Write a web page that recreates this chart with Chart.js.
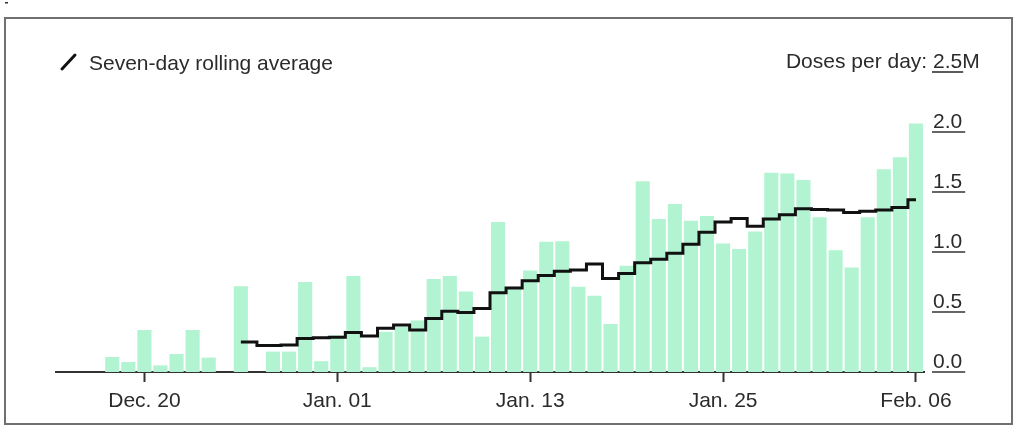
<!DOCTYPE html>
<html>
<head>
<meta charset="utf-8">
<script src="https://cdn.jsdelivr.net/npm/chart.js@4/dist/chart.umd.min.js"></script>
<style>
  html, body { margin: 0; padding: 0; background: #fff; }
  #wrap { width: 1024px; height: 445px; position: relative; }
</style>
</head>
<body>
<div id="wrap"><canvas id="c" width="1024" height="445"></canvas></div>
<script>
// ---- DATA ----
const categories = [
  "Dec. 15","Dec. 16","Dec. 17","Dec. 18","Dec. 19","Dec. 20","Dec. 21","Dec. 22","Dec. 23","Dec. 24",
  "Dec. 25","Dec. 26","Dec. 27","Dec. 28","Dec. 29","Dec. 30","Dec. 31",
  "Jan. 01","Jan. 02","Jan. 03","Jan. 04","Jan. 05","Jan. 06","Jan. 07","Jan. 08","Jan. 09","Jan. 10",
  "Jan. 11","Jan. 12","Jan. 13","Jan. 14","Jan. 15","Jan. 16","Jan. 17","Jan. 18","Jan. 19","Jan. 20",
  "Jan. 21","Jan. 22","Jan. 23","Jan. 24","Jan. 25","Jan. 26","Jan. 27","Jan. 28","Jan. 29","Jan. 30",
  "Jan. 31","Feb. 01","Feb. 02","Feb. 03","Feb. 04","Feb. 05","Feb. 06"
];
// daily doses, millions
const dailyDoses = [
  null, null, null, 0.125, 0.083, 0.35, 0.055, 0.15, 0.35, 0.12,
  null, 0.715, null, 0.17, 0.17, 0.75, 0.09,
  0.305, 0.80, 0.04, 0.335, 0.375, 0.43, 0.775, 0.80, 0.67, 0.295,
  1.25, 0.71, 0.845, 1.085, 1.09, 0.71, 0.635, 0.40, 0.885, 1.59,
  1.275, 1.40, 1.26, 1.30, 1.07, 1.025, 1.17, 1.66, 1.655, 1.60,
  1.29, 1.015, 0.87, 1.29, 1.69, 1.79, 2.07
];
// seven-day rolling average, millions
const rollingAverage = [
  null, null, null, null, null, null, null, null, null, null,
  null, 0.25, null, 0.22, 0.225, 0.28, 0.285,
  0.29, 0.33, 0.30, 0.365, 0.392, 0.35, 0.445, 0.507, 0.495, 0.53,
  0.66, 0.70, 0.76, 0.805, 0.84, 0.85, 0.90, 0.78, 0.82, 0.91,
  0.94, 0.99, 1.065, 1.165, 1.25, 1.28, 1.215, 1.275, 1.31, 1.36,
  1.355, 1.35, 1.33, 1.34, 1.35, 1.37, 1.435
];
const xTickLabels = ["Dec. 20", "Jan. 01", "Jan. 13", "Jan. 25", "Feb. 06"];
const yTickValues = [0, 0.5, 1.0, 1.5, 2.0];
const yTopValue = 2.5;
const legendLabel = "Seven-day rolling average";
const unitPrefix = "Doses per day: ";
const unitSuffix = "M";

// ---- STYLE ----
const FONT = '"Liberation Sans", Arial, Helvetica, sans-serif';
const TEXT = '#2b2b2b';
const BAR = '#b2f4d2';

const decor = {
  id: 'decor',
  afterDraw(chart) {
    const ctx = chart.ctx;
    const y = chart.scales.y;
    const lx = chart.chartArea.right + 9;
    ctx.save();
    // frame
    ctx.strokeStyle = '#707070';
    ctx.lineWidth = 2;
    ctx.strokeRect(5, 18, 1007, 406);
    ctx.fillStyle = '#333';
    ctx.fillRect(5, 2, 3, 1.5);

    ctx.font = '21px ' + FONT;
    ctx.fillStyle = TEXT;
    ctx.strokeStyle = '#333';
    ctx.lineWidth = 1.6;
    ctx.textBaseline = 'alphabetic';
    // y tick labels (underlined)
    yTickValues.forEach(v => {
      const py = y.getPixelForValue(v);
      const t = v.toFixed(1);
      ctx.textAlign = 'left';
      ctx.fillText(t, lx, py - 4.5);
      const w = ctx.measureText(t).width;
      ctx.beginPath();
      ctx.moveTo(lx - 1, py);
      ctx.lineTo(lx + w + 3, py);
      ctx.stroke();
    });
    // top tick with unit
    const pt = y.getPixelForValue(yTopValue);
    const tt = yTopValue.toFixed(1);
    ctx.textAlign = 'right';
    ctx.fillText(unitPrefix, lx, pt - 4.5);
    ctx.textAlign = 'left';
    ctx.fillText(tt, lx, pt - 4.5);
    const tw = ctx.measureText(tt).width;
    ctx.fillText(unitSuffix, lx + tw, pt - 4.5);
    ctx.beginPath();
    ctx.moveTo(lx - 1, pt);
    ctx.lineTo(lx + tw + 1, pt);
    ctx.stroke();

    // legend
    ctx.strokeStyle = '#111';
    ctx.lineWidth = 3;
    ctx.lineCap = 'round';
    ctx.beginPath();
    ctx.moveTo(62, 69);
    ctx.lineTo(75, 55);
    ctx.stroke();
    ctx.textAlign = 'left';
    ctx.fillText(legendLabel, 89, 70);
    ctx.restore();
  }
};

new Chart(document.getElementById('c'), {
  type: 'bar',
  data: {
    labels: categories,
    datasets: [
      {
        type: 'line',
        label: legendLabel,
        data: rollingAverage,
        borderColor: '#111',
        borderWidth: 3,
        stepped: 'middle',
        pointRadius: 0,
        spanGaps: true,
        fill: false,
        order: 0
      },
      {
        type: 'bar',
        label: 'Doses',
        data: dailyDoses,
        backgroundColor: BAR,
        borderWidth: 0,
        categoryPercentage: 1.0,
        barPercentage: 0.88,
        order: 1
      }
    ]
  },
  options: {
    responsive: false,
    animation: false,
    devicePixelRatio: 1,
    layout: { padding: { left: 56, top: 72, right: 0, bottom: 0 } },
    plugins: { legend: { display: false }, tooltip: { enabled: false } },
    scales: {
      x: {
        offset: true,
        grid: {
          offset: false,
          drawOnChartArea: false,
          drawTicks: true,
          tickLength: 10,
          tickWidth: 2,
          tickColor: (c) => (c.index !== undefined && xTickLabels.includes(categories[c.index])) ? '#333' : 'rgba(0,0,0,0)'
        },
        border: { display: true, color: '#333', width: 2 },
        ticks: {
          autoSkip: false,
          maxRotation: 0,
          minRotation: 0,
          padding: 7,
          color: TEXT,
          font: { family: FONT, size: 21 },
          callback: (v, i) => xTickLabels.includes(categories[i]) ? categories[i] : ''
        },
        afterFit: (s) => { s.height = 73; }
      },
      y: {
        position: 'right',
        min: 0,
        max: yTopValue,
        ticks: { display: false, stepSize: 0.5 },
        grid: { display: false, drawTicks: false },
        border: { display: false },
        afterFit: (s) => { s.width = 100; }
      }
    }
  },
  plugins: [decor]
});
</script>
</body>
</html>
